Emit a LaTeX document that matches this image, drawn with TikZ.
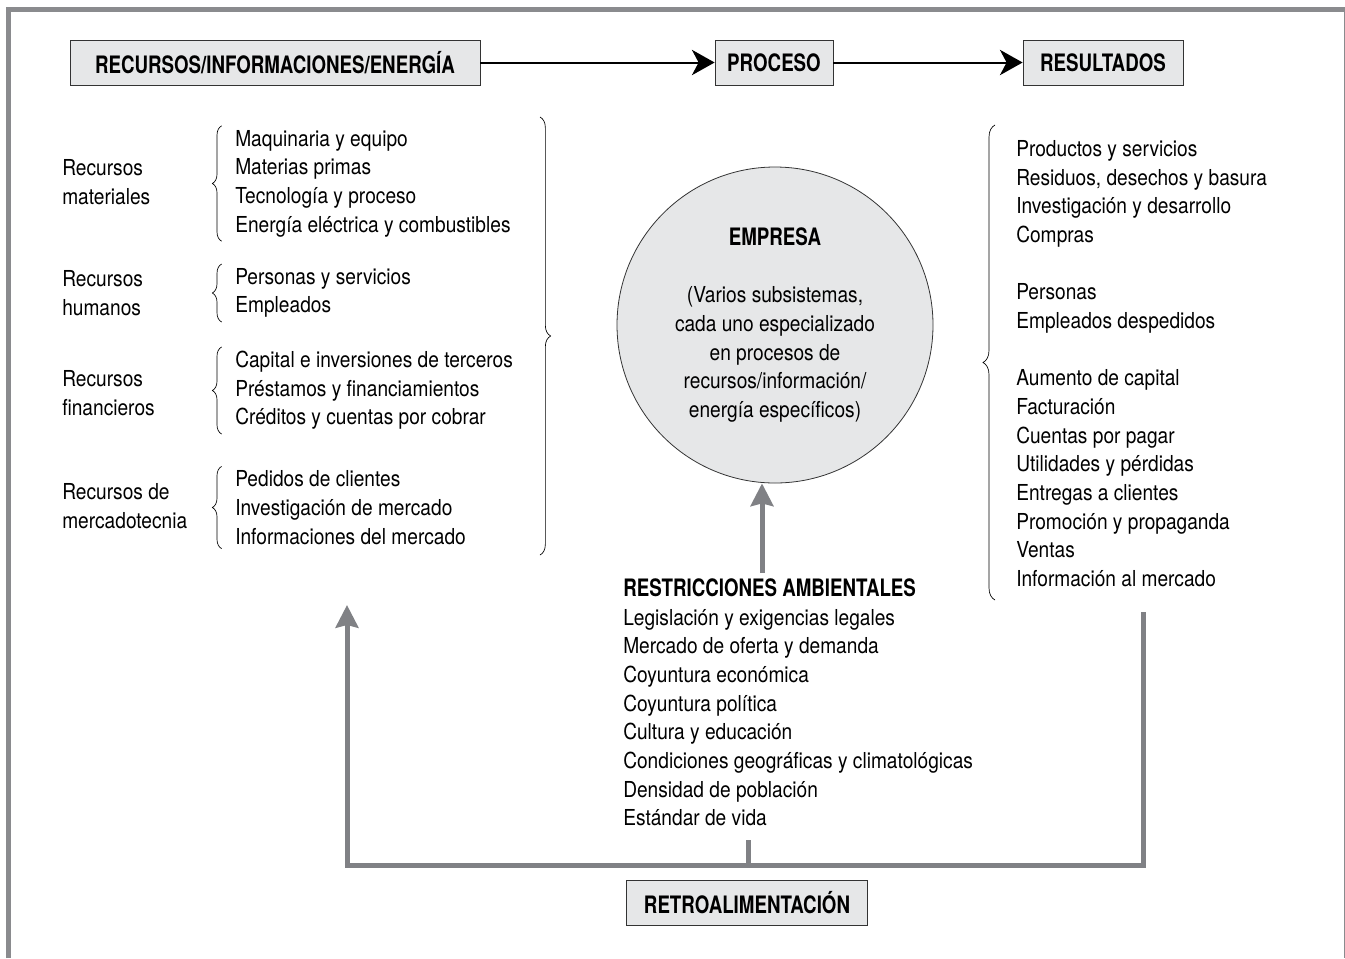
\documentclass[tikz,border=0pt]{standalone}
\usepackage{fontspec}
\setmainfont{TeX Gyre Heros}[FakeStretch=0.87]
\newfontfamily\headfont{TeX Gyre Heros}[FakeStretch=0.78]
\usetikzlibrary{positioning}
\usetikzlibrary{arrows.meta}
\usetikzlibrary{decorations.pathreplacing}

\begin{document}
\begin{tikzpicture}[x=0.75pt,y=-0.75pt,
	font=\fontsize{16.5}{21.5}\selectfont,
	box/.style={draw=black!80,fill=boxgray,line width=0.6pt,minimum height=33.75pt,inner sep=0pt,
		font=\headfont\fontsize{18}{21.5}\selectfont\bfseries},
	list/.style={align=left,anchor=west,inner sep=0pt},
	flow/.style={-{Stealth[length=17pt,width=19pt,inset=5pt]},line width=1.5pt},
	back/.style={draw=linegray,line width=3.75pt},
	backarrow/.style={back,-{Stealth[length=17pt,width=17pt,inset=2pt]}},
	lbrace/.style={decorate,decoration={brace,amplitude=7pt},line width=0.5pt}]
	
	\definecolor{boxgray}{RGB}{230,231,232}
	\definecolor{linegray}{RGB}{128,129,133}
	\definecolor{framegray}{RGB}{138,139,142}
	
	\useasboundingbox (0,0) rectangle (1345,958);
	
	% frame
	\draw[framegray,line width=3.75pt] (8.5,958) -- (8.5,9.5) -- (1345,9.5);
	\draw[framegray,line width=1.2pt] (1344.3,9.5) -- (1344.3,958);
	
	% top row
	\node[box,minimum width=307.5pt] (rec) at (275,62.5) {RECURSOS/INFORMACIONES/ENERGÍA};
	\node[box,minimum width=88.5pt] (proc) at (774,62.5) {PROCESO};
	\node[box,minimum width=120pt] (res) at (1103,62.5) {RESULTADOS};
	\draw[flow] (rec) -- (proc);
	\draw[flow] (proc) -- (res);
	
	% inputs
	\node[list] (lmat) at (62,182) {Recursos\\materiales};
	\node[list] (lhum) at (62,293) {Recursos\\humanos};
	\node[list] (lfin) at (62,393) {Recursos\\financieros};
	\node[list] (lmer) at (62,506) {Recursos de\\mercadotecnia};
	
	\node[list] (mat) at (235,183.5) {Maquinaria y equipo\\Materias primas\\Tecnología y proceso\\Energía eléctrica y combustibles};
	\node[list] (hum) at (235,293) {Personas y servicios\\Empleados};
	\node[list] (fin) at (235,390.5) {Capital e inversiones de terceros\\Préstamos y financiamientos\\Créditos y cuentas por cobrar};
	\node[list] (mer) at (235,507.5) {Pedidos de clientes\\Investigación de mercado\\Informaciones del mercado};
	
	\foreach \g in {mat,hum,fin,mer}
		\draw[lbrace] ([xshift=-10pt,yshift=-3pt]\g.south west) -- ([xshift=-10pt,yshift=3pt]\g.north west);
	
	\coordinate (inT) at (540,117);
	\coordinate (inB) at (540,555);
	\draw[decorate,decoration={brace,amplitude=8pt},line width=0.5pt] (inT) -- (inB);
	
	% company
	\node[circle,draw=black!80,fill=boxgray,line width=0.6pt,minimum size=237pt,inner sep=0pt,align=center] (emp) at (775,325)
		{{\headfont\fontsize{18}{21.5}\selectfont\bfseries EMPRESA}\\[21.5pt](Varios subsistemas,\\cada uno especializado\\en procesos de\\recursos/información/\\energía específicos)};
	
	% outputs
	\node[list] (out) at (1016,363.5) {Productos y servicios\\Residuos, desechos y basura\\Investigación y desarrollo\\Compras\\[21.5pt]%
		Personas\\Empleados despedidos\\[21.5pt]%
		Aumento de capital\\Facturación\\Cuentas por pagar\\Utilidades y pérdidas\\Entregas a clientes\\Promoción y propaganda\\Ventas\\Información al mercado};
	\coordinate (outT) at (995,125);
	\coordinate (outB) at (995,600);
	\draw[lbrace,decoration={amplitude=9pt}] (outB) -- (outT);
	
	% environment
	\node[list] (rst) at (623,702.5) {{\headfont\fontsize{18}{21.5}\selectfont\bfseries RESTRICCIONES AMBIENTALES}\\Legislación y exigencias legales\\Mercado de oferta y demanda\\Coyuntura económica\\Coyuntura política\\Cultura y educación\\Condiciones geográficas y climatológicas\\Densidad de población\\Estándar de vida};
	\coordinate (up) at (762,573);
	\draw[backarrow] (up) -- (up |- emp.south);
	
	% feedback
	\node[box,minimum width=180.75pt] (fb) at (747,902.5) {RETROALIMENTACIÓN};
	\coordinate (fbR) at (1143,612);
	\coordinate (fbL) at (347,605);
	\coordinate (fbM) at (748,840);
	\draw[backarrow] (fbR) -- (fbR |- 0,865) -- (fbL |- 0,865) -- (fbL);
	\draw[back] (fbM) -- (fbM |- 0,865);
\end{tikzpicture}
\end{document}
